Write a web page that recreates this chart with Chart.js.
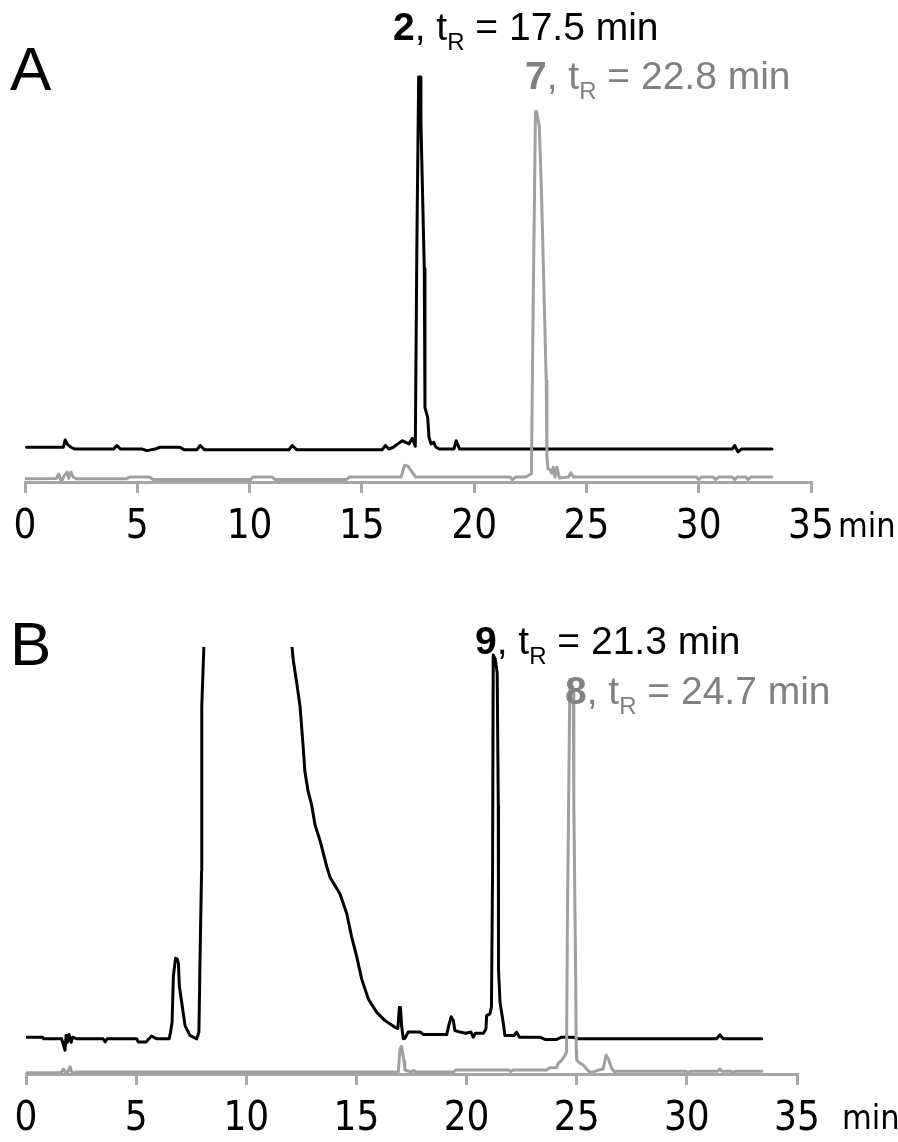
<!DOCTYPE html>
<html><head><meta charset="utf-8">
<script src="https://cdn.jsdelivr.net/npm/chart.js@4.4.1/dist/chart.umd.min.js"></script>
<style>
html,body{margin:0;padding:0;background:#fff;width:898px;height:1142px;overflow:hidden}
.wrap{position:absolute;left:0;width:898px}
#wrapA{top:0;height:571px}
#wrapB{top:571px;height:590px}
</style></head><body>
<div class="wrap" id="wrapA"><canvas id="chartA" width="898" height="571"></canvas></div>
<div class="wrap" id="wrapB"><canvas id="chartB" width="898" height="590"></canvas></div>
<script>
// ---- data ----
const xTicks = [0, 5, 10, 15, 20, 25, 30, 35];
const xUnit = 'min';
const panelLetters = ['A', 'B'];
const compoundsA = ['2', '7'];
const retentionA = [17.5, 22.8];
const compoundsB = ['9', '8'];
const retentionB = [21.3, 24.7];

// [time (min), detector signal (a.u.)]
const blackA = [[0.07,8.75],[1.71,8.75],[1.79,10.6],[1.9,9.4],[2.05,8.75],[2.23,8.3],[3.95,8.3],[4.09,9.2],[4.25,8.3],[5.2,8.3],[5.43,7.9],[5.8,8.3],[6.0,8.75],[6.9,8.75],[7.1,8.1],[7.65,8.1],[7.8,9.2],[8.0,8.1],[11.75,8.1],[11.9,9.2],[12.1,8.1],[15.9,8.1],[16.05,9.2],[16.2,8.3],[16.4,8.75],[16.6,9.6],[16.8,10.4],[16.95,10.0],[17.1,9.6],[17.25,11.0],[17.38,9.0],[17.45,60],[17.53,102],[17.6,102],[17.63,90.5],[17.78,53.75],[17.81,18.75],[17.93,16.25],[17.99,11.25],[18.08,9.6],[18.2,10.0],[18.3,8.75],[18.45,8.3],[19.1,8.3],[19.2,10.4],[19.35,8.3],[31.5,8.3],[31.6,9.2],[31.75,7.6],[31.9,8.3],[33.26,8.3]];
const grayA = [[0,0.8],[1.4,0.9],[1.5,2.0],[1.62,0],[1.75,1.6],[1.88,2.5],[1.95,0.9],[2.05,2.5],[2.15,1.2],[2.3,0.8],[4.5,0.8],[4.65,1.25],[5.55,1.25],[5.7,0.6],[10.05,0.6],[10.15,1.25],[11.0,1.25],[11.15,0.6],[14.3,0.6],[14.45,1.25],[16.75,1.25],[16.9,4.2],[17.05,4.0],[17.4,1.25],[21.6,1.25],[21.7,0.6],[21.85,1.25],[22.3,1.25],[22.55,2.1],[22.62,40],[22.73,93.3],[22.78,93.3],[22.9,89.6],[22.99,74.6],[23.07,57],[23.21,25.5],[23.24,6.25],[23.29,3.3],[23.4,3.0],[23.45,2.2],[23.52,3.75],[23.6,1.2],[23.68,3.75],[23.8,1.0],[24.2,1.25],[24.3,2.3],[24.42,1.25],[29.9,1.25],[30.0,0.6],[30.12,1.25],[30.65,1.25],[30.75,0.6],[30.88,1.25],[31.5,1.25],[31.6,0.6],[31.72,1.25],[32.1,1.25],[32.2,0.6],[32.32,1.25],[33.26,1.25]];
const blackB = [[0.03,9.3],[0.75,9.3],[0.8,8.9],[1.62,8.9],[1.77,6],[1.82,9.75],[1.88,8],[1.95,10],[2.05,8],[2.12,9.3],[2.3,8.9],[3.5,8.9],[3.59,8.1],[3.68,8.9],[5.02,8.9],[5.1,8.1],[5.45,8.1],[5.7,9.6],[5.93,8.9],[6.5,8.9],[6.56,10.5],[6.63,13],[6.69,24.75],[6.79,29.3],[6.87,29],[6.92,28],[6.96,22.25],[7.07,18],[7.22,12.25],[7.44,9.75],[7.75,8.9],[7.85,10.6],[7.9,28.9],[7.97,51.4],[7.98,93],[8.08,109],[8.3,140],[11.8,140],[12.06,109],[12.13,104.75],[12.29,98.9],[12.44,93],[12.51,88],[12.59,82.25],[12.66,76.5],[12.81,71.4],[12.97,68],[13.12,63],[13.35,59],[13.65,52.5],[13.8,49.75],[14.25,45.6],[14.56,40.6],[14.78,34.75],[15.01,29.75],[15.24,24],[15.54,19],[15.92,15.6],[16.3,13.5],[16.75,11.8],[16.88,11.5],[16.95,16.8],[17.0,16.8],[17.05,12.25],[17.13,8.9],[17.2,9],[17.35,10.6],[17.9,10.6],[18.03,10],[19.1,10],[19.17,11.8],[19.3,14.5],[19.4,13.5],[19.47,11],[19.7,10.6],[19.95,10.3],[20.2,10.6],[20.3,9.3],[20.4,10.3],[20.76,10.3],[20.88,11.4],[20.91,14.75],[21.06,15.2],[21.13,17],[21.18,51.4],[21.21,106],[21.3,105],[21.39,101.4],[21.44,68],[21.45,26.4],[21.52,18],[21.59,15.6],[21.67,12.7],[21.74,9.75],[22.15,9.75],[22.27,10.6],[22.4,9.3],[23.33,9.3],[23.56,8.75],[24.09,8.75],[24.32,9.3],[24.84,9.3],[25.07,8.9],[31.35,8.9],[31.5,9.9],[31.65,8.9],[33.4,8.9]];
const grayB = [[0,0.3],[1.6,0.3],[1.7,1.25],[1.85,0],[2.0,1.8],[2.1,0.2],[2.3,0.5],[16.9,0.5],[16.98,6.4],[17.05,7],[17.16,3.1],[17.2,1],[17.5,0.5],[17.6,0.9],[17.7,0.5],[19.4,0.5],[19.5,1.0],[21.9,1.0],[22.0,0.6],[22.1,1.0],[23.64,1.0],[23.78,1.6],[24.08,1.6],[24.16,2.7],[24.32,3.5],[24.47,4.75],[24.54,5.6],[24.58,40],[24.69,99.75],[24.8,98],[24.84,97.25],[24.87,68],[24.95,26.4],[24.98,6],[25.0,3.5],[25.15,2.7],[25.3,2.25],[25.45,1.25],[25.6,0.4],[25.8,0.6],[25.98,1.0],[26.2,1.25],[26.33,4.75],[26.43,3.9],[26.59,1.4],[26.74,0.4],[26.8,0.7],[29.95,0.7],[30.05,0.4],[30.2,0.7],[31.4,0.7],[31.5,1.3],[31.6,0.7],[32.0,0.7],[32.1,0.3],[32.2,0.7],[33.4,0.7]];

// ---- styling / rendering ----
const AXIS_GRAY = '#a6a6a6';
const TRACE_GRAY = '#a0a0a0';
const TEXT_GRAY = '#808080';
const SANS = '"Liberation Sans", Arial, sans-serif';
const NARROW = '"DejaVu Sans Condensed", "Liberation Sans Narrow", sans-serif';
const TICK_SIZE = 40, TICK_LH = 1.2, TICK_PAD = 11, TICK_LEN = 11;

const toXY = arr => arr.map(p => ({x: p[0], y: p[1]}));

function drawTR(ctx, x, y, num, tr, color, size) {
  ctx.save();
  ctx.fillStyle = color;
  ctx.textAlign = 'left';
  ctx.textBaseline = 'alphabetic';
  ctx.font = `bold ${size}px ${SANS}`;
  ctx.fillText(num, x, y);
  x += ctx.measureText(num).width;
  ctx.font = `${size}px ${SANS}`;
  ctx.fillText(', t', x, y);
  x += ctx.measureText(', t').width;
  const sub = Math.round(size * 0.62);
  ctx.font = `${sub}px ${SANS}`;
  ctx.fillText('R', x, y + size * 0.26);
  x += ctx.measureText('R').width;
  ctx.font = `${size}px ${SANS}`;
  ctx.fillText(' = ' + tr.toFixed(1) + ' ' + xUnit, x, y);
  ctx.restore();
}

const annotatePlugin = {
  id: 'annot',
  afterDraw(chart, args, opts) {
    const ctx = chart.ctx;
    const xs = chart.scales.x;
    ctx.save();
    ctx.fillStyle = '#000';
    ctx.textAlign = 'left';
    ctx.textBaseline = 'alphabetic';
    ctx.font = `62px ${SANS}`;
    ctx.fillText(opts.letter, opts.letterX, opts.letterY);
    // axis unit, on the tick-label line
    ctx.font = `${opts.unitSize}px ${NARROW}`;
    ctx.textBaseline = 'middle';
    ctx.fillText(xUnit, opts.unitX, xs.top + TICK_LEN + TICK_PAD + TICK_SIZE * TICK_LH / 2);
    ctx.restore();
    opts.labels.forEach(l => drawTR(ctx, l.x, l.y, l.num, l.tr, l.color, 39));
  }
};

function makeChart(id, black, gray, yMax, pad, annot) {
  return new Chart(document.getElementById(id), {
    type: 'line',
    data: {
      datasets: [
        {data: toXY(black), borderColor: '#000', borderWidth: 3, order: 2},
        {data: toXY(gray), borderColor: TRACE_GRAY, borderWidth: 3, order: 1}
      ]
    },
    options: {
      responsive: false,
      animation: false,
      devicePixelRatio: 1,
      layout: {padding: pad},
      elements: {
        point: {radius: 0},
        line: {tension: 0, borderJoinStyle: 'round', borderCapStyle: 'round', fill: false}
      },
      plugins: {legend: {display: false}, tooltip: {enabled: false}, annot: annot},
      scales: {
        x: {
          type: 'linear', min: 0, max: 35,
          afterBuildTicks: s => { s.ticks = xTicks.map(v => ({value: v})); },
          ticks: {color: '#000', font: {family: NARROW, size: TICK_SIZE, lineHeight: TICK_LH}, padding: TICK_PAD, maxRotation: 0, autoSkip: false},
          grid: {display: true, drawOnChartArea: false, drawTicks: true, tickLength: TICK_LEN, color: AXIS_GRAY, lineWidth: 3},
          border: {display: true, color: AXIS_GRAY, width: 3}
        },
        y: {display: false, min: 0, max: yMax}
      }
    },
    plugins: [annotatePlugin]
  });
}

makeChart('chartA', blackA, grayA, 104, {left: 25, right: 87, top: 69, bottom: 8}, {
  letter: panelLetters[0], letterX: 10, letterY: 90, unitX: 838, unitSize: 34,
  labels: [
    {x: 393, y: 40, num: compoundsA[0], tr: retentionA[0], color: '#000'},
    {x: 525, y: 89, num: compoundsA[1], tr: retentionA[1], color: TEXT_GRAY}
  ]
});
makeChart('chartB', blackB, grayB, 108, {left: 26, right: 101, top: 76, bottom: 6}, {
  letter: panelLetters[1], letterX: 10, letterY: 94, unitX: 842, unitSize: 34,
  labels: [
    {x: 475, y: 83, num: compoundsB[0], tr: retentionB[0], color: '#000'},
    {x: 565, y: 133, num: compoundsB[1], tr: retentionB[1], color: TEXT_GRAY}
  ]
});
</script>
</body></html>
